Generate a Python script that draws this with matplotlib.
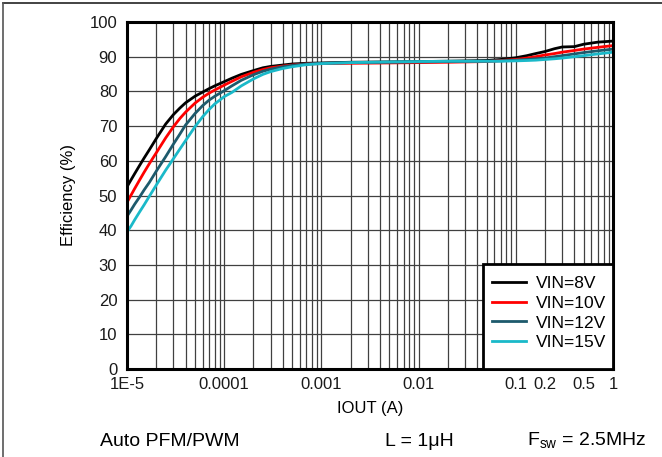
import matplotlib
matplotlib.use('Agg')
import matplotlib.pyplot as plt
from matplotlib.lines import Line2D
from matplotlib.patches import Rectangle
from matplotlib.ticker import FixedLocator, FixedFormatter, LogLocator, NullFormatter

plt.rcParams['font.family'] = ['Liberation Sans', 'DejaVu Sans']

# load current (A)
iout = [1e-5, 1.1e-5, 1.2e-5, 1.35e-5, 1.5e-5, 1.7e-5, 2e-5, 2.5e-5, 3e-5, 3.5e-5,
        4e-5, 5e-5, 6e-5, 7e-5, 8e-5, 1e-4, 1.2e-4, 1.5e-4, 2e-4, 2.5e-4,
        3e-4, 4e-4, 5e-4, 7e-4, 1e-3, 2e-3, 5e-3, 1e-2, 2e-2, 5e-2,
        0.07, 0.1, 0.13, 0.16, 0.2, 0.25, 0.3, 0.4, 0.5, 0.7, 1.0]

# efficiency (%) per input voltage
eff_8v = [52.5, 54.5, 56.3, 58.7, 60.8, 63.2, 66.4, 70.6, 73.3, 75.2,
          76.7, 78.6, 79.8, 80.8, 81.6, 82.8, 83.8, 84.9, 86.0, 86.8,
          87.2, 87.6, 87.9, 88.1, 88.2, 88.4, 88.5, 88.6, 88.7, 88.9,
          89.2, 89.7, 90.3, 90.9, 91.5, 92.3, 92.8, 92.9, 93.6, 94.2, 94.5]
eff_10v = [48.0, 50.1, 52.0, 54.5, 56.7, 59.2, 62.3, 66.6, 69.8, 72.2,
           74.0, 76.6, 78.3, 79.5, 80.4, 81.8, 82.9, 84.2, 85.5, 86.3,
           86.8, 87.3, 87.6, 87.9, 88.0, 88.1, 88.2, 88.3, 88.4, 88.6,
           88.9, 89.2, 89.6, 90.0, 90.5, 90.9, 91.3, 91.8, 92.2, 92.7, 93.2]
eff_12v = [44.0, 45.8, 47.5, 49.6, 51.6, 53.8, 57.0, 61.2, 64.8, 67.7,
           70.3, 73.6, 75.9, 77.5, 78.6, 80.2, 81.6, 83.2, 84.8, 85.8,
           86.4, 87.1, 87.5, 87.9, 88.1, 88.3, 88.4, 88.5, 88.6, 88.7,
           88.8, 89.0, 89.2, 89.4, 89.6, 90.0, 90.3, 90.8, 91.2, 91.7, 92.2]
eff_15v = [39.5, 41.2, 43.0, 45.3, 47.3, 49.8, 53.0, 57.3, 60.6, 63.4,
           65.8, 69.8, 72.7, 74.8, 76.4, 78.5, 79.7, 81.6, 83.6, 84.9,
           85.7, 86.6, 87.1, 87.7, 88.0, 88.3, 88.5, 88.6, 88.7, 88.7,
           88.7, 88.8, 88.9, 89.0, 89.2, 89.4, 89.6, 90.0, 90.3, 90.8, 91.3]

labels = ['VIN=8V', 'VIN=10V', 'VIN=12V', 'VIN=15V']
colors = ['#000000', '#ff0000', '#1d5a6c', '#1ab9c9']

xticks = [1e-5, 1e-4, 1e-3, 1e-2, 0.1, 0.2, 0.5, 1]
xticklabels = ['1E-5', '0.0001', '0.001', '0.01', '0.1', '0.2', '0.5', '1']
yticks = list(range(0, 101, 10))

W, H = 662, 457
fig = plt.figure(figsize=(W / 100, H / 100), dpi=100)
ax = fig.add_axes([127 / W, (H - 369) / H, 486 / W, 347 / H])

for y, lab, c in zip([eff_8v, eff_10v, eff_12v, eff_15v], labels, colors):
    ax.plot(iout, y, color=c, lw=2.0, label=lab, zorder=3)

ax.set_xscale('log')
ax.set_xlim(1e-5, 1)
ax.set_ylim(0, 100)
ax.xaxis.set_major_locator(FixedLocator(xticks))
ax.xaxis.set_major_formatter(FixedFormatter(xticklabels))
ax.xaxis.set_minor_locator(LogLocator(base=10, subs=range(2, 10), numticks=20))
ax.xaxis.set_minor_formatter(NullFormatter())
ax.set_yticks(yticks)

ax.grid(True, which='both', axis='x', color='#404040', lw=0.9)
ax.grid(True, which='major', axis='y', color='#404040', lw=0.9)
ax.tick_params(which='both', length=0, labelsize=12, colors='#1a1a1a')
ax.tick_params(axis='x', pad=6)
ax.tick_params(axis='y', pad=7)
for s in ax.spines.values():
    s.set_linewidth(2.2)
    s.set_zorder(5)

ax.set_xlabel('IOUT (A)', fontsize=12, labelpad=6)
ax.set_ylabel('Efficiency (%)', fontsize=12, labelpad=10)

# legend box drawn separately so its size matches the original
box = Rectangle((0.7325, 0), 0.2675, 0.3026, transform=ax.transAxes,
                facecolor='white', edgecolor='black', lw=2.0, zorder=5.5,
                clip_on=False)
ax.add_patch(box)
leg = ax.legend(loc='center', bbox_to_anchor=(0.869, 0.161), fontsize=12.5,
                handlelength=1.95, labelspacing=0.26, handletextpad=0.57,
                borderpad=0, frameon=False)
leg.set_zorder(6)

# page frame lines
fig.add_artist(Line2D([3 / W, 1], [1 - 3 / H, 1 - 3 / H], color='#222222', lw=1.2))
fig.add_artist(Line2D([3 / W, 3 / W], [0, 1 - 3 / H], color='#555555', lw=1.2))

fig.text(100 / W, 1 - 441 / H, 'Auto PFM/PWM', fontsize=14, va='center', ha='left')
fig.text(385 / W, 1 - 441 / H, 'L = 1\u03bcH', fontsize=14, va='center', ha='left')
fig.text(527 / W, 1 - 441 / H, r'F$_{\mathregular{sw}}$ = 2.5MHz', fontsize=14,
         va='center', ha='left')

fig.savefig('out.png', dpi=100)
